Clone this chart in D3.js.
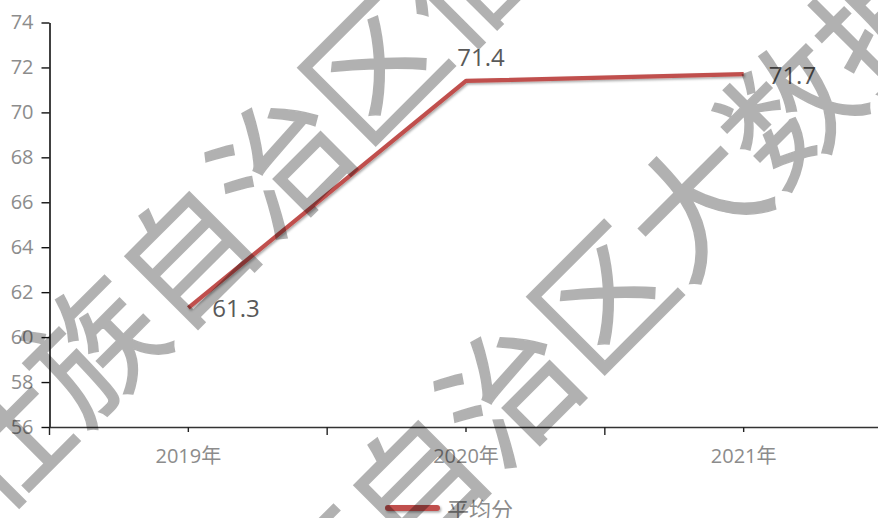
<!DOCTYPE html>
<html><head><meta charset="utf-8">
<script src="https://cdn.jsdelivr.net/npm/d3@7"></script>
<style>body{margin:0;background:#fff;overflow:hidden}</style>
</head><body>
<svg id="c" width="878" height="518"></svg>
<script>
const categories = ["2019年", "2020年", "2021年"];
const seriesName = "平均分";
const values = [61.3, 71.4, 71.7];
const yTicks = [56, 58, 60, 62, 64, 66, 68, 70, 72, 74];
const watermarkRows = ["广西壮族自治区信息中心", "广西壮族自治区大数据发展局"];

// layout config (not data)
const labelLayout = [
  {dx: 24, dy: 0, anchor: "start"},
  {dx: 15, dy: -24, anchor: "middle"},
  {dx: 25, dy: 0, anchor: "start"}
];
const FONT = "'Open Sans','Noto Sans CJK SC',sans-serif";

const svg = d3.select("#c");
svg.append("rect").attr("width", 878).attr("height", 518).attr("fill", "#fff");

const defs = svg.append("defs");
const f = defs.append("filter").attr("id", "sh").attr("filterUnits", "userSpaceOnUse")
  .attr("x", 0).attr("y", 0).attr("width", 878).attr("height", 518);
f.append("feDropShadow").attr("dx", 1.2).attr("dy", 1.5).attr("stdDeviation", 1)
  .attr("flood-color", "#000").attr("flood-opacity", 0.35);

const x = d3.scaleBand().domain(categories).range([49.5, 882.5]);
const y = d3.scaleLinear().domain([56, 74]).range([427, 22.5]);

// Y axis
const gy = svg.append("g").attr("transform", "translate(49.5,0)")
  .call(d3.axisLeft(y).tickValues(yTicks).tickSize(8).tickSizeOuter(0).tickPadding(8));
gy.select(".domain").attr("stroke", "#111").attr("stroke-width", 1.6);
gy.selectAll(".tick line").attr("stroke", "#111").attr("stroke-width", 1.4);
gy.selectAll(".tick text").attr("fill", "#8c8c8c").style("font-family", FONT).style("font-size", "20px");

// X axis
const gx = svg.append("g").attr("transform", "translate(0,427)")
  .call(d3.axisBottom(x).tickSize(5).tickSizeOuter(0));
gx.select(".domain").attr("stroke", "#333").attr("stroke-width", 1.6);
gx.selectAll(".tick line").attr("stroke", "#222").attr("stroke-width", 1.4);
gx.selectAll(".tick text").attr("fill", "#8c8c8c").attr("y", 22)
  .style("font-family", FONT).style("font-size", "20px");
gx.selectAll(".btick").data(categories).join("line").attr("class", "btick")
  .attr("x1", d => x(d)).attr("x2", d => x(d)).attr("y1", 0).attr("y2", 8)
  .attr("stroke", "#222").attr("stroke-width", 1.4);

// Line
const pts = categories.map((c, i) => ({c, v: values[i]}));
const line = d3.line().x(d => x(d.c) + x.bandwidth() / 2).y(d => y(d.v));
svg.append("path").datum(pts).attr("d", line)
  .attr("fill", "none").attr("stroke", "#c0504d").attr("stroke-width", 4.2)
  .attr("stroke-linejoin", "round").attr("filter", "url(#sh)");

// Data labels
svg.selectAll(".lbl").data(pts).join("text").attr("class", "lbl")
  .attr("x", (d, i) => x(d.c) + x.bandwidth() / 2 + labelLayout[i].dx)
  .attr("y", (d, i) => y(d.v) + labelLayout[i].dy)
  .attr("text-anchor", (d, i) => labelLayout[i].anchor)
  .attr("dominant-baseline", "central")
  .attr("fill", "#595959").style("font-family", FONT).style("font-size", "24px")
  .text(d => d.v.toFixed(1));

// Legend
const lg = svg.append("g");
lg.append("rect").attr("x", 385).attr("y", 505).attr("width", 55).attr("height", 6).attr("rx", 3)
  .attr("fill", "#c0504d").attr("filter", "url(#sh)");
lg.append("text").attr("x", 447).attr("y", 509).attr("dominant-baseline", "central")
  .attr("fill", "#8c8c8c").style("font-family", FONT).style("font-size", "22px").text(seriesName);

// Watermark (semi-transparent, on top)
const wmSize = 132;
const wmCenters = [[368, 63], [597, 292]];
const wm = svg.append("g").attr("pointer-events", "none").attr("opacity", 0.3);
wmCenters.forEach(([cx, cy], r) => {
  const txt = watermarkRows[r];
  const anchorIdx = txt.indexOf("区");
  wm.append("text")
    .attr("transform", `translate(${cx},${cy}) rotate(-45)`)
    .attr("x", -(anchorIdx + 0.5) * wmSize).attr("y", 0)
    .attr("dominant-baseline", "central")
    .attr("fill", "#000").attr("stroke", "#000").attr("stroke-width", 1.5)
    .style("font-family", "'Noto Sans CJK SC',sans-serif")
    .style("font-size", wmSize + "px")
    .text(txt);
});
</script>
</body></html>
